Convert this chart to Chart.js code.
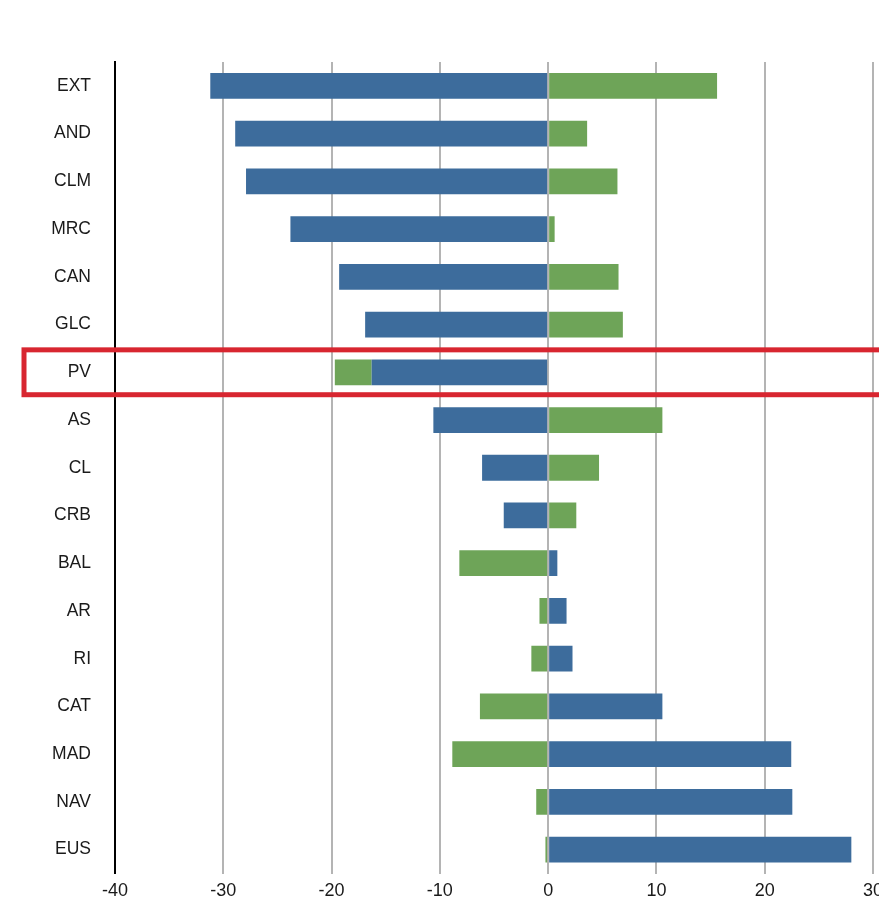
<!DOCTYPE html>
<html>
<head>
<meta charset="utf-8">
<script src="https://cdn.jsdelivr.net/npm/chart.js@4/dist/chart.umd.min.js"></script>
<style>
    html, body { margin: 0; padding: 0; overflow: hidden; background: #fff; }
    .chart-box { position: relative; width: 893px; height: 908px; }
</style>
</head>
<body>
<div class="chart-box"><canvas id="regionChart"></canvas></div>
<script>
const regions = ['EXT', 'AND', 'CLM', 'MRC', 'CAN', 'GLC', 'PV', 'AS', 'CL', 'CRB', 'BAL', 'AR', 'RI', 'CAT', 'MAD', 'NAV', 'EUS'];
const blueValues = [-31.2, -28.9, -27.9, -23.8, -19.3, -16.9, -16.3, -10.6, -6.1, -4.1, 0.85, 1.7, 2.25, 10.55, 22.45, 22.55, 28.0];
const greenValues = [15.6, 3.6, 6.4, 0.6, 6.5, 6.9, -3.4, 10.55, 4.7, 2.6, -8.2, -0.8, -1.55, -6.3, -8.85, -1.1, -0.25];
const xTicks = [-40, -30, -20, -10, 0, 10, 20, 30];
const highlighted = 'PV';

Chart.defaults.font.family = "'Liberation Sans', Arial, Helvetica, sans-serif";
Chart.defaults.color = '#1a1a1a';

// red frame round the highlighted row
const highlightBox = {
    id: 'highlightBox',
    afterDraw(chart) {
        const y = chart.scales.y;
        const area = chart.chartArea;
        const rowH = (area.bottom - area.top) / regions.length;
        const cy = y.getPixelForValue(regions.indexOf(highlighted));
        const half = rowH * 0.47;
        const ctx = chart.ctx;
        ctx.save();
        ctx.strokeStyle = '#d82630';
        ctx.lineWidth = 5;
        ctx.strokeRect(24, cy - half, chart.width + 20, half * 2);
        ctx.restore();
    }
};

new Chart(document.getElementById('regionChart'), {
    type: 'bar',
    data: {
        labels: regions,
        datasets: [{
            label: 'Blue',
            data: blueValues,
            backgroundColor: '#3d6c9c',
            barPercentage: 0.54,
            categoryPercentage: 1
        }, {
            label: 'Green',
            data: greenValues,
            backgroundColor: '#6ea458',
            barPercentage: 0.54,
            categoryPercentage: 1
        }]
    },
    options: {
        indexAxis: 'y',
        responsive: true,
        maintainAspectRatio: false,
        animation: false,
        layout: { padding: { top: 62, right: 20, left: 0, bottom: 0 } },
        plugins: {
            legend: { display: false },
            tooltip: { enabled: false }
        },
        scales: {
            x: {
                stacked: true,
                min: -40,
                max: 30,
                afterBuildTicks: scale => { scale.ticks = xTicks.map(v => ({ value: v })); },
                afterFit: scale => { scale.height = 30; },
                grid: {
                    color: ctx => ctx.tick && ctx.tick.value === -40 ? '#000' : '#b4b4b4',
                    lineWidth: 2,
                    drawTicks: false
                },
                border: { display: false },
                ticks: { padding: 7, font: { size: 18 }, color: '#1a1a1a' }
            },
            y: {
                stacked: true,
                afterFit: scale => { scale.width = 115; },
                grid: { display: false, drawTicks: false },
                border: { display: true, color: '#000', width: 2 },
                ticks: { padding: 24, font: { size: 17.5 }, color: '#1a1a1a' }
            }
        }
    },
    plugins: [highlightBox]
});
</script>
</body>
</html>
